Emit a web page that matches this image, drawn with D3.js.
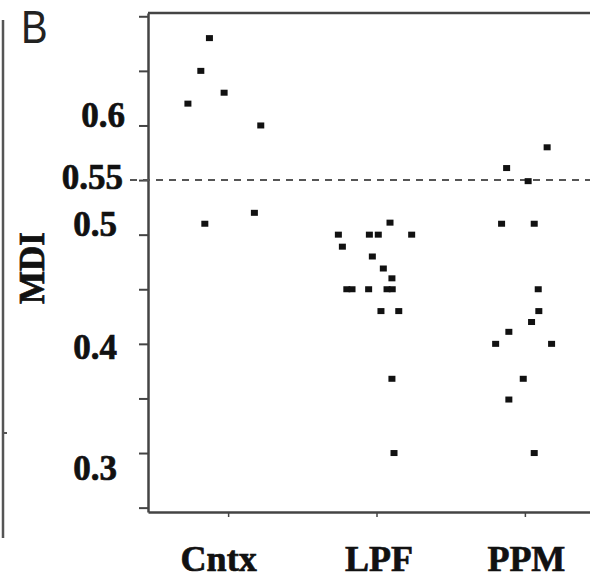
<!DOCTYPE html>
<html lang="en">
<head>
    <meta charset="UTF-8">
    <title>MDI by group</title>
    <script src="https://d3js.org/d3.v7.min.js"></script>
    <style>
        body, html {
            margin: 0;
            background-color: #fff;
        }
        .axis text, .title {
            font-family: 'Liberation Serif', 'Times New Roman', serif;
            font-weight: bold;
            fill: #111;
            stroke: #111;
            stroke-width: 0.7px;
        }
        .axis path, .axis line {
            stroke: #444;
        }
    </style>
</head>
<body>
<svg id="chart"></svg>

<script>
    // groups on the x axis
    const groups = ["Cntx", "LPF", "PPM"];

    // MDI values, with the sideways spread of each dot (in group widths)
    const cntxMDI    = [0.68, 0.65, 0.63, 0.62, 0.60, 0.52, 0.51];
    const cntxSpread = [-0.126, -0.184, -0.027, -0.271, 0.22, 0.177, -0.157];

    const lpfMDI    = [0.511, 0.50, 0.50, 0.50, 0.50, 0.489, 0.48, 0.469, 0.46,
                       0.45, 0.45, 0.45, 0.45, 0.45, 0.43, 0.43, 0.368, 0.30];
    const lpfSpread = [0.091, -0.257, -0.048, 0.012, 0.237, -0.23, -0.028, 0.046, 0.104,
                       -0.2, -0.165, -0.053, 0.071, 0.106, 0.03, 0.15, 0.104, 0.118];

    const ppmMDI    = [0.58, 0.561, 0.549, 0.51, 0.51, 0.45, 0.43, 0.42, 0.411,
                       0.40, 0.40, 0.368, 0.349, 0.30];
    const ppmSpread = [0.15, -0.123, 0.022, -0.157, 0.063, 0.09, 0.094, 0.045, -0.108,
                       -0.197, 0.18, -0.011, -0.108, 0.063];

    const yTicks = [0.25, 0.30, 0.35, 0.40, 0.45, 0.50, 0.55, 0.60, 0.65, 0.70];
    const yLabelled = [0.30, 0.40, 0.50, 0.55, 0.60];
    const cutoff = 0.55;

    const width = 590, height = 585;

    const svg = d3.select("#chart")
        .attr("width", width)
        .attr("height", height);

    const x = d3.scaleLinear().domain([-0.54, 2.54]).range([148, 605]);
    const y = d3.scaleLinear().domain([0.246, 0.703]).range([512, 13]);

    const points = [
        ...cntxMDI.map((v, i) => ({ g: 0, v, s: cntxSpread[i] })),
        ...lpfMDI.map((v, i) => ({ g: 1, v, s: lpfSpread[i] })),
        ...ppmMDI.map((v, i) => ({ g: 2, v, s: ppmSpread[i] }))
    ];

    // panel A's edge on the far left
    svg.append("line")
        .attr("x1", 3).attr("x2", 3).attr("y1", 20).attr("y2", 538)
        .attr("stroke", "#555").attr("stroke-width", 2.5);
    svg.append("line")
        .attr("x1", 3).attr("x2", 7).attr("y1", 433).attr("y2", 433)
        .attr("stroke", "#555").attr("stroke-width", 2);

    // top frame line
    svg.append("line")
        .attr("x1", x.range()[0]).attr("x2", x.range()[1])
        .attr("y1", y.range()[1]).attr("y2", y.range()[1])
        .attr("stroke", "#444").attr("stroke-width", 2.5);

    // label nudges, the original figure placed them by hand
    const nudge = { 30: [0, 15], 40: [0, 3], 50: [0, -10], 55: [6, -3], 60: [8, -10] };
    const key = v => Math.round(v * 100);

    const yAxis = svg.append("g")
        .attr("class", "axis")
        .attr("transform", `translate(${x.range()[0]},0)`)
        .call(d3.axisLeft(y)
            .tickValues(yTicks)
            .tickSize(9)
            .tickSizeOuter(0)
            .tickPadding(22)
            .tickFormat(v => yLabelled.some(l => key(l) === key(v)) ? d3.format("")(+v.toFixed(2)) : ""));
    yAxis.select(".domain").attr("stroke-width", 2.5);
    yAxis.selectAll(".tick line").attr("stroke-width", 2);
    yAxis.selectAll(".tick text")
        .style("font-size", "35px")
        .attr("dx", v => (nudge[key(v)] || [0, 0])[0])
        .attr("dy", v => `${0.32 + (nudge[key(v)] || [0, 0])[1] / 35}em`);

    const xAxis = svg.append("g")
        .attr("class", "axis")
        .attr("transform", `translate(0,${y.range()[0]})`)
        .call(d3.axisBottom(x)
            .tickValues([0, 1, 2])
            .tickSize(5)
            .tickSizeOuter(0)
            .tickPadding(28)
            .tickFormat(i => groups[i]));
    xAxis.select(".domain").attr("stroke-width", 2.5);
    xAxis.selectAll(".tick line").attr("stroke-width", 1.5);
    xAxis.selectAll(".tick text")
        .style("font-size", "36px")
        .attr("dx", (d, i) => [-10, 2, 1][i]);

    // cut-off line
    svg.append("line")
        .attr("x1", 130).attr("x2", width)
        .attr("y1", y(cutoff)).attr("y2", y(cutoff))
        .attr("stroke", "#555")
        .attr("stroke-width", 2)
        .attr("stroke-dasharray", "7,6");

    // dots
    svg.selectAll(".dot")
        .data(points)
        .enter().append("rect")
        .attr("class", "dot")
        .attr("x", d => x(d.g + d.s) - 3.5)
        .attr("y", d => y(d.v) - 3)
        .attr("width", 7)
        .attr("height", 6)
        .attr("fill", "#111");

    // axis title
    svg.append("text")
        .attr("class", "title")
        .attr("transform", "translate(44,268) rotate(-90)")
        .attr("text-anchor", "middle")
        .style("font-size", "35px")
        .text("MDI");

    // panel letter
    svg.append("text")
        .attr("transform", "translate(21,43) scale(0.85,1)")
        .style("font-family", "'Liberation Sans', Arial, sans-serif")
        .style("font-size", "47px")
        .attr("fill", "#222")
        .text("B");
</script>
</body>
</html>
